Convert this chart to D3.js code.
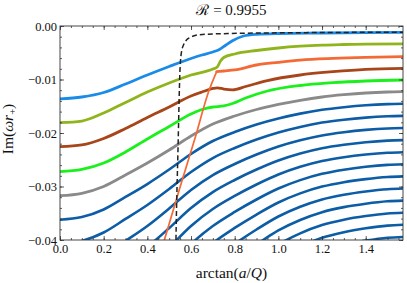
<!DOCTYPE html>
<html><head><meta charset="utf-8">
<script src="https://cdn.jsdelivr.net/npm/d3@7"></script>
<style>
html,body{margin:0;padding:0;background:#fff;}
svg{display:block;}
text{font-family:"Liberation Serif","DejaVu Serif",serif;fill:#111;}
</style>
</head><body>
<svg id="chart" width="407" height="283"></svg>
<script>
// ---- data ----
const titleText = "\u211B = 0.9955";
const xMajorTicks = [0, 0.2, 0.4, 0.6, 0.8, 1.0, 1.2, 1.4];
const yMajorTicks = [0, -0.01, -0.02, -0.03, -0.04];

// colored low overtones
const aBlue   = [0, 0.1, 0.2, 0.3, 0.4, 0.5, 0.6, 0.65, 0.7, 0.73, 0.76, 0.79, 0.84, 0.9, 1.0, 1.2, 1.4, 1.5708];
const blueVals= [-0.01364,-0.01327,-0.01243,-0.01084,-0.00916,-0.00757,-0.00607,-0.00542,-0.00486,-0.00439,-0.00355,-0.00275,-0.00187,-0.00155,-0.0014,-0.00131,-0.00123,-0.00118];

const aOlive   = [0, 0.1, 0.2, 0.3, 0.4, 0.5, 0.6, 0.7, 0.72, 0.735, 0.75, 0.8, 0.9, 1.0, 1.1, 1.2, 1.3, 1.4, 1.5708];
const oliveVals= [-0.01807,-0.01776,-0.01626,-0.0143,-0.01234,-0.01065,-0.00916,-0.00804,-0.00766,-0.00654,-0.00589,-0.00523,-0.00458,-0.00411,-0.00378,-0.00357,-0.00346,-0.00338,-0.00333];

const aBrown   = [0, 0.1, 0.2, 0.3, 0.4, 0.5, 0.6, 0.65, 0.7, 0.72, 0.75, 0.79, 0.85, 0.95, 1.1, 1.25, 1.4, 1.5708];
const brownVals= [-0.02256,-0.02224,-0.02103,-0.01916,-0.0171,-0.01514,-0.01308,-0.01234,-0.01168,-0.01155,-0.01178,-0.01193,-0.01131,-0.01019,-0.00916,-0.00854,-0.00809,-0.00791];

const aGreen   = [0, 0.1, 0.2, 0.3, 0.4, 0.5, 0.6, 0.65, 0.7, 0.75, 0.79, 0.85, 0.95, 1.1, 1.25, 1.4, 1.5708];
const greenVals= [-0.02723,-0.02682,-0.02561,-0.02355,-0.02112,-0.01879,-0.01645,-0.01561,-0.01514,-0.01495,-0.01449,-0.01346,-0.01215,-0.01112,-0.0106,-0.01028,-0.01009];

const aGrid = [0, 0.1, 0.2, 0.3, 0.4, 0.5, 0.6, 0.7, 0.8, 0.9, 1.0, 1.1, 1.2, 1.3, 1.4, 1.5, 1.5708];
const grayVals = [-0.03172,-0.03127,-0.03000,-0.02785,-0.02561,-0.02318,-0.02056,-0.01832,-0.01682,-0.01561,-0.01467,-0.01389,-0.01327,-0.01284,-0.01252,-0.01234,-0.01228];

// higher overtones (dark blue), on aGrid; null = far outside the plot
const overtone1  = [-0.03621,-0.03572,-0.03430,-0.03196,-0.02954,-0.02683,-0.02392,-0.02150,-0.01981,-0.01841,-0.01729,-0.01638,-0.01566,-0.01518,-0.01482,-0.01461,-0.01454];
const overtone2  = [-0.04070,-0.04017,-0.03860,-0.03607,-0.03346,-0.03047,-0.02729,-0.02468,-0.02280,-0.02122,-0.01990,-0.01886,-0.01805,-0.01751,-0.01712,-0.01688,-0.01680];
const overtone3  = [-0.04518,-0.04462,-0.04290,-0.04018,-0.03739,-0.03412,-0.03065,-0.02786,-0.02579,-0.02402,-0.02252,-0.02135,-0.02045,-0.01985,-0.01942,-0.01915,-0.01907];
const overtone4  = [-0.04967,-0.04907,-0.04720,-0.04429,-0.04131,-0.03777,-0.03402,-0.03104,-0.02878,-0.02683,-0.02514,-0.02383,-0.02284,-0.02219,-0.02172,-0.02142,-0.02133];
const overtone5  = [null,-0.05352,-0.05150,-0.04841,-0.04524,-0.04141,-0.03738,-0.03421,-0.03177,-0.02963,-0.02776,-0.02632,-0.02523,-0.02452,-0.02402,-0.02369,-0.02359];
const overtone6  = [null,null,null,-0.05252,-0.04917,-0.04505,-0.04075,-0.03739,-0.03476,-0.03243,-0.03038,-0.02881,-0.02763,-0.02686,-0.02632,-0.02596,-0.02585];
const overtone7  = [null,null,null,null,-0.05309,-0.04870,-0.04411,-0.04057,-0.03775,-0.03524,-0.03299,-0.03129,-0.03002,-0.02919,-0.02862,-0.02823,-0.02811];
const overtone8  = [null,null,null,null,null,-0.05234,-0.04748,-0.04375,-0.04074,-0.03804,-0.03561,-0.03378,-0.03241,-0.03153,-0.03092,-0.03050,-0.03038];
const overtone9  = [null,null,null,null,null,null,-0.05084,-0.04693,-0.04373,-0.04085,-0.03822,-0.03627,-0.03481,-0.03386,-0.03322,-0.03277,-0.03264];
const overtone10 = [null,null,null,null,null,null,null,-0.05010,-0.04673,-0.04365,-0.04084,-0.03875,-0.03720,-0.03620,-0.03552,-0.03504,-0.03490];
const overtone11 = [null,null,null,null,null,null,null,null,-0.04972,-0.04646,-0.04345,-0.04124,-0.03959,-0.03854,-0.03782,-0.03731,-0.03716];
const overtone12 = [null,null,null,null,null,null,null,null,null,-0.04926,-0.04607,-0.04372,-0.04199,-0.04087,-0.04012,-0.03958,-0.03943];

// steep orange branch and its flat continuation
const aOrangeRise   = [0.46, 0.478, 0.55, 0.62, 0.68, 0.7175];
const orangeRiseVals= [-0.0425,-0.0400,-0.03009,-0.02075,-0.01234,-0.00854];
const aOrangeFlat   = [0.7175, 0.75, 0.8, 0.9, 1.0, 1.1, 1.25, 1.4, 1.5708];
const orangeFlatVals= [-0.00854,-0.00841,-0.00822,-0.00729,-0.00679,-0.00636,-0.00604,-0.00585,-0.00574];

// dashed black curve
const aDashed   = [0.529, 0.5311, 0.5403, 0.5495, 0.5563, 0.5655, 0.5792, 0.5952, 0.6181, 0.641, 0.7784, 1.0989, 1.5708];
const dashedVals= [-0.046,-0.0400,-0.02318,-0.00822,-0.00486,-0.00355,-0.00262,-0.00215,-0.00178,-0.00163,-0.0014,-0.00125,-0.00116];

// ---- drawing ----
const m = {left: 60, right: 403, top: 26, bottom: 240};
const svg = d3.select("#chart");
const x = d3.scaleLinear().domain([0, Math.PI / 2]).range([m.left, m.right]);
const y = d3.scaleLinear().domain([-0.04, 0]).range([m.bottom, m.top]);

svg.append("defs").append("clipPath").attr("id", "clip")
  .append("rect").attr("x", m.left).attr("y", m.top)
  .attr("width", m.right - m.left).attr("height", m.bottom - m.top);

const plot = svg.append("g").attr("clip-path", "url(#clip)");

function drawSeries(as, vs, color, width, dash) {
  const pts = as.map((a, i) => [a, vs[i]]);
  const line = d3.line()
    .defined(d => d[1] !== null)
    .x(d => x(d[0])).y(d => y(d[1]))
    .curve(d3.curveMonotoneX);
  const p = plot.append("path").datum(pts)
    .attr("d", line).attr("fill", "none")
    .attr("stroke", color).attr("stroke-width", width)
    .attr("stroke-linecap", "round").attr("stroke-linejoin", "round");
  if (dash) p.attr("stroke-dasharray", dash).attr("stroke-linecap", "butt");
}

const darkBlue = "#0c5da5";
[overtone12, overtone11, overtone10, overtone9, overtone8, overtone7,
 overtone6, overtone5, overtone4, overtone3, overtone2, overtone1]
  .forEach(v => drawSeries(aGrid, v, darkBlue, 2.6));
drawSeries(aGrid, grayVals, "#8a8a8a", 2.8);
drawSeries(aGreen, greenVals, "#1cf01c", 2.8);
drawSeries(aBrown, brownVals, "#a8461a", 2.8);
drawSeries(aOlive, oliveVals, "#8fb41c", 2.8);
drawSeries(aBlue, blueVals, "#1a8ce8", 2.8);
drawSeries(aOrangeRise, orangeRiseVals, "#f36a36", 1.7);
drawSeries(aOrangeFlat, orangeFlatVals, "#f36a36", 2.8);
drawSeries(aDashed, dashedVals, "#222", 1.5, "5,3");

// axes with inward ticks on all four sides
const xMinor = d3.range(0, 1.5709, 0.05).filter(v => v <= Math.PI / 2);
const yMinor = d3.range(-0.04, 0.0001, 0.002);
const fmtX = d3.format(".1f"), fmtY = d3.format(".2f");

function styleAxis(g) {
  g.select(".domain").remove();
  g.selectAll("line").attr("stroke", "#333").attr("stroke-width", 0.8);
  g.selectAll("text").attr("font-size", 12.5).attr("fill", "#111");
}
svg.append("g").attr("transform", `translate(0,${m.bottom})`)
  .call(d3.axisBottom(x).tickValues(xMajorTicks).tickSize(-4).tickPadding(4).tickFormat(fmtX)).call(styleAxis);
svg.append("g").attr("transform", `translate(0,${m.bottom})`)
  .call(d3.axisBottom(x).tickValues(xMinor).tickSize(-2).tickFormat("")).call(styleAxis);
svg.append("g").attr("transform", `translate(0,${m.top})`)
  .call(d3.axisTop(x).tickValues(xMajorTicks).tickSize(-4).tickFormat("")).call(styleAxis);
svg.append("g").attr("transform", `translate(0,${m.top})`)
  .call(d3.axisTop(x).tickValues(xMinor).tickSize(-2).tickFormat("")).call(styleAxis);
svg.append("g").attr("transform", `translate(${m.left},0)`)
  .call(d3.axisLeft(y).tickValues(yMajorTicks).tickSize(-4).tickPadding(3).tickFormat(fmtY)).call(styleAxis);
svg.append("g").attr("transform", `translate(${m.left},0)`)
  .call(d3.axisLeft(y).tickValues(yMinor).tickSize(-2).tickFormat("")).call(styleAxis);
svg.append("g").attr("transform", `translate(${m.right},0)`)
  .call(d3.axisRight(y).tickValues(yMajorTicks).tickSize(-4).tickFormat("")).call(styleAxis);
svg.append("g").attr("transform", `translate(${m.right},0)`)
  .call(d3.axisRight(y).tickValues(yMinor).tickSize(-2).tickFormat("")).call(styleAxis);

svg.append("rect").attr("x", m.left).attr("y", m.top)
  .attr("width", m.right - m.left).attr("height", m.bottom - m.top)
  .attr("fill", "none").attr("stroke", "#333").attr("stroke-width", 0.9);

// title
svg.append("text").attr("x", (m.left + m.right) / 2).attr("y", 14.5)
  .attr("text-anchor", "middle").attr("font-size", 15).text(titleText);

// x label
const xl = svg.append("text").attr("x", (m.left + m.right) / 2).attr("y", 278)
  .attr("text-anchor", "middle").attr("font-size", 15.5);
xl.append("tspan").text("arctan(");
xl.append("tspan").attr("font-style", "italic").text("a");
xl.append("tspan").text("/");
xl.append("tspan").attr("font-style", "italic").text("Q");
xl.append("tspan").text(")");

// y label
const yl = svg.append("text").attr("transform", `translate(13,129) rotate(-90)`)
  .attr("text-anchor", "middle").attr("font-size", 15.5);
yl.append("tspan").text("Im(");
yl.append("tspan").attr("font-style", "italic").text("\u03C9r");
yl.append("tspan").attr("font-size", 10.5).attr("dy", 3).text("+");
yl.append("tspan").attr("dy", -3).text(")");
</script>
</body></html>
